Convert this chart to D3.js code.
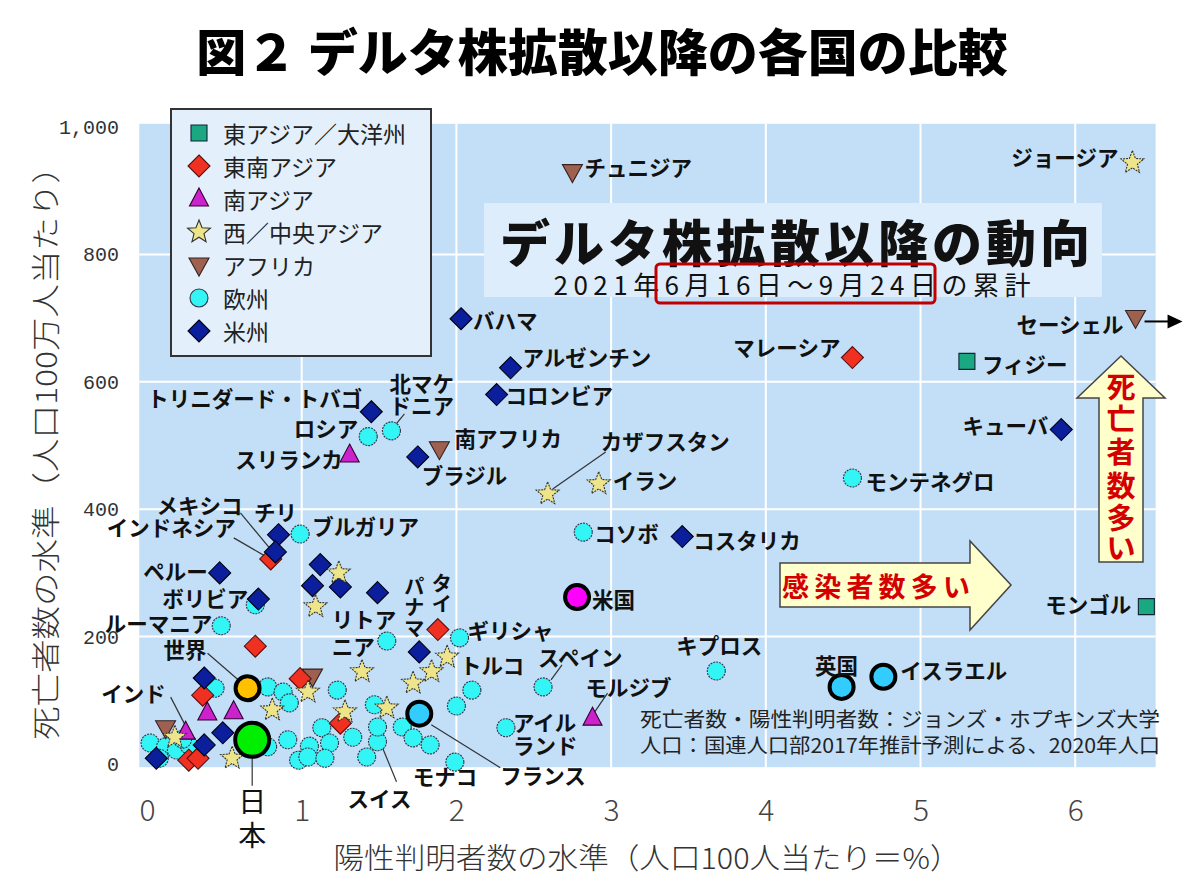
<!DOCTYPE html>
<html><head><meta charset="utf-8">
<script src="https://cdn.jsdelivr.net/npm/d3@7"></script>
<style>
body{margin:0;background:#fff;}
svg{display:block;font-family:"Noto Sans CJK JP","Noto Sans",sans-serif;}
</style>
</head><body>
<svg id="c" width="1200" height="895"></svg>
<script>
// ---------------- DATA ----------------
const xTicks = [0,1,2,3,4,5,6];
const xTickLabels = ["0","1","2","3","4","5","6"];
const yTicks = [0,200,400,600,800,1000];
const yTickLabels = ["0","200","400","600","800","1,000"];
const legendLabels = ["東アジア／大洋州","東南アジア","南アジア","西／中央アジア","アフリカ","欧州","米州"];

const eastAsia = [
  {n:"フィジー",x:5.30,y:632},{n:"モンゴル",x:6.46,y:247}
];
const seAsia = [
  {n:"マレーシア",x:4.56,y:638},{n:"インドネシア",x:0.80,y:322},{n:"タイ",x:1.88,y:211},
  {n:"",x:0.70,y:185},{n:"",x:0.36,y:108},{n:"",x:0.99,y:134},{n:"",x:1.25,y:64},
  {n:"",x:0.27,y:6},{n:"",x:0.33,y:9}
];
const southAsia = [
  {n:"スリランカ",x:1.31,y:485},{n:"モルジブ",x:2.88,y:72},{n:"インド",x:0.25,y:50},
  {n:"",x:0.39,y:80},{n:"",x:0.56,y:82}
];
const westAsia = [
  {n:"ジョージア",x:6.37,y:944},{n:"カザフスタン",x:2.59,y:424},{n:"イラン",x:2.92,y:440},
  {n:"トルコ",x:1.94,y:168},
  {n:"",x:1.84,y:145},{n:"",x:1.72,y:127},{n:"",x:1.24,y:300},{n:"",x:1.09,y:247},
  {n:"",x:1.39,y:145},{n:"",x:1.04,y:113},{n:"",x:0.81,y:85},{n:"",x:0.55,y:9},
  {n:"",x:1.28,y:82},{n:"",x:1.55,y:88},{n:"",x:0.18,y:42}
];
const africa = [
  {n:"チュニジア",x:2.75,y:930},{n:"セーシェル",x:6.39,y:701},{n:"南アフリカ",x:1.89,y:495},
  {n:"",x:1.07,y:138},{n:"",x:0.12,y:57}
];
const europe = [
  {n:"ロシア",x:1.43,y:514},{n:"北マケドニア",x:1.58,y:523},{n:"モンテネグロ",x:4.56,y:449},
  {n:"コソボ",x:2.82,y:364},{n:"ブルガリア",x:0.99,y:361},{n:"ルーマニア",x:0.48,y:217},
  {n:"リトアニア",x:1.55,y:193},{n:"ギリシャ",x:2.02,y:198},{n:"スペイン",x:2.56,y:121},
  {n:"アイルランド",x:2.32,y:57},{n:"キプロス",x:3.68,y:146},{n:"モナコ",x:1.99,y:3},
  {n:"スイス",x:1.49,y:35},
  {n:"",x:0.70,y:250},{n:"",x:0.44,y:119},{n:"",x:0.78,y:121},{n:"",x:0.88,y:113},
  {n:"",x:0.92,y:96},{n:"",x:1.23,y:116},{n:"",x:2.10,y:116},{n:"",x:2.00,y:91},
  {n:"",x:1.47,y:93},{n:"",x:1.13,y:57},{n:"",x:1.33,y:42},{n:"",x:1.49,y:58},
  {n:"",x:1.65,y:58},{n:"",x:1.72,y:41},{n:"",x:1.83,y:30},{n:"",x:0.91,y:38},
  {n:"",x:1.05,y:28},{n:"",x:1.18,y:33},{n:"",x:1.42,y:11},{n:"",x:0.98,y:6},
  {n:"",x:1.04,y:11},{n:"",x:0.02,y:33},{n:"",x:0.12,y:27},{n:"",x:0.19,y:22},
  {n:"",x:0.27,y:30},{n:"",x:0.23,y:39},{n:"",x:0.78,y:27},{n:"",x:1.15,y:9},
  {n:"",x:0.08,y:9}
];
const americas = [
  {n:"バハマ",x:2.03,y:699},{n:"アルゼンチン",x:2.35,y:622},{n:"コロンビア",x:2.26,y:580},
  {n:"キューバ",x:5.91,y:525},{n:"コスタリカ",x:3.46,y:357},{n:"トリニダード・トバゴ",x:1.45,y:553},
  {n:"ブラジル",x:1.75,y:482},{n:"チリ",x:0.85,y:360},{n:"メキシコ",x:0.83,y:333},
  {n:"ペルー",x:0.47,y:300},{n:"ボリビア",x:0.72,y:259},{n:"パナマ",x:1.76,y:176},
  {n:"",x:1.12,y:313},{n:"",x:1.07,y:280},{n:"",x:1.25,y:278},{n:"",x:1.49,y:269},
  {n:"",x:0.37,y:135},{n:"",x:0.49,y:49},{n:"",x:0.37,y:30},{n:"",x:0.06,y:9}
];
const highlights = [
  {n:"世界",x:0.65,y:119},{n:"フランス",x:1.76,y:79},{n:"米国",x:2.78,y:262},
  {n:"英国",x:4.49,y:121},{n:"イスラエル",x:4.76,y:137},{n:"日本",x:0.68,y:38}
];

// ---------------- STYLES / LAYOUT ----------------
const hlStyle = {"世界":["#ffc000",12],"フランス":["#33ccff",12],"米国":["#ff00ff",12],
  "英国":["#33ccff",12],"イスラエル":["#33ccff",12],"日本":["#00ee00",17]};

const labelLayout = {
 "チュニジア":{dx:12,dy:-5,a:"start"},
 "ジョージア":{dx:-14,dy:-6,a:"end"},
 "バハマ":{dx:12,dy:1,a:"start"},
 "アルゼンチン":{dx:12,dy:-11,a:"start"},
 "コロンビア":{dx:9,dy:0,a:"start"},
 "マレーシア":{dx:-12,dy:-11,a:"end"},
 "フィジー":{dx:15,dy:2,a:"start"},
 "セーシェル":{dx:-12,dy:6,a:"end"},
 "キューバ":{dx:-13,dy:-5,a:"end"},
 "モンテネグロ":{dx:13,dy:3,a:"start"},
 "モンゴル":{dx:-15,dy:-3,a:"end"},
 "北マケドニア":{lines:["北マケ","ドニア"],dx:-2,dy:[-48,-26],a:"start",leader:[4,-6,13,-17]},
 "ロシア":{dx:-10,dy:-9,a:"end"},
 "トリニダード・トバゴ":{dx:-9,dy:-14,a:"end"},
 "スリランカ":{dx:-7,dy:3,a:"end"},
 "南アフリカ":{dx:15,dy:-11,a:"start"},
 "ブラジル":{dx:4,dy:18,a:"start"},
 "カザフスタン":{dx:53,dy:-53,a:"start",leader:[5,-5,58,-42]},
 "イラン":{dx:14,dy:-4,a:"start"},
 "コソボ":{dx:11,dy:0,a:"start"},
 "コスタリカ":{dx:11,dy:3,a:"start"},
 "チリ":{dx:-3,dy:-23,a:"middle"},
 "ブルガリア":{dx:12,dy:-9,a:"start"},
 "メキシコ":{dx:-33,dy:-47,a:"end",leader:[-35,-39,-6,-4]},
 "インドネシア":{dx:-35,dy:-32,a:"end",leader:[-37,-21,-6,-3]},
 "ペルー":{dx:-12,dy:-2,a:"end"},
 "ボリビア":{dx:-10,dy:-2,a:"end"},
 "ルーマニア":{dx:-9,dy:-3,a:"end"},
 "世界":{dx:-41,dy:-40,a:"end",leader:[-40,-35,-10,-9]},
 "インド":{dx:-20,dy:-40,a:"end",leader:[-15,-35,0,-6]},
 "日本":{lines:["日","本"],dx:0,dy:[60,94],a:"middle",leader:[0,18,0,46],plain:true},
 "米国":{dx:15,dy:1,a:"start"},
 "英国":{dx:-5,dy:-22,a:"middle"},
 "イスラエル":{dx:17,dy:-7,a:"start"},
 "フランス":{dx:81,dy:61,a:"start",leader:[12,11,81,54]},
 "キプロス":{dx:3,dy:-26,a:"middle"},
 "スペイン":{dx:-5,dy:-30,a:"start",leader:[8,-7,19,-22]},
 "モルジブ":{dx:-7,dy:-32,a:"start",leader:[2,-6,15,-25]},
 "アイルランド":{lines:["アイル","ランド"],dx:7,dy:[-6,17],a:"start"},
 "ギリシャ":{dx:8,dy:-8,a:"start"},
 "トルコ":{dx:13,dy:8,a:"start"},
 "パナマ":{lines:["パ","ナ","マ"],dx:-5,dy:[-66,-45,-24],a:"middle",small:true},
 "タイ":{lines:["タ","イ"],dx:4,dy:[-47,-26],a:"middle",small:true},
 "リトアニア":{lines:["リトア","ニア"],dx:-55,dy:[-23,4],a:"start"},
 "モナコ":{dx:-42,dy:13,a:"start"},
 "スイス":{dx:2,dy:56,a:"middle",leader:[5,6,19,40]}
};

// ---------------- DRAW ----------------
const svg = d3.select("#c");
const x = d3.scaleLinear().domain([0,6]).range([147,1075.2]);
const y = d3.scaleLinear().domain([0,1000]).range([764,127]);

// title
svg.append("text").attr("x",602).attr("y",49).attr("text-anchor","middle")
  .attr("dominant-baseline","central").attr("font-size",50).attr("font-weight",900)
  .attr("fill","#000").text("図２ デルタ株拡散以降の各国の比較");

// plot background
svg.append("rect").attr("x",x(-0.05)).attr("y",y(1005))
  .attr("width",x(6.52)-x(-0.05)).attr("height",y(-5)-y(1005)).attr("fill","#c3dff8");

// grid
svg.append("g").selectAll("line").data(xTicks.filter(d=>d>0)).join("line")
  .attr("x1",d=>x(d)).attr("x2",d=>x(d)).attr("y1",y(1005)).attr("y2",y(-5))
  .attr("stroke","#fff").attr("stroke-width",2);
svg.append("g").selectAll("line").data(yTicks.filter(d=>d>0&&d<1000)).join("line")
  .attr("x1",x(-0.05)).attr("x2",x(6.52)).attr("y1",d=>y(d)).attr("y2",d=>y(d))
  .attr("stroke","#fff").attr("stroke-width",2);

// axes tick labels
const xAxis = d3.axisBottom(x).tickValues(xTicks).tickFormat((d,i)=>xTickLabels[i]).tickSize(0).tickPadding(0);
const gx = svg.append("g").attr("transform",`translate(0,808)`).call(xAxis);
gx.select(".domain").remove();
gx.selectAll("text").attr("font-size",30).attr("fill","#444").attr("font-weight",300)
  .attr("font-family","'Noto Sans CJK JP',sans-serif").attr("dy",null).attr("y",0)
  .attr("dominant-baseline","central");
const yAxis = d3.axisLeft(y).tickValues(yTicks).tickFormat((d,i)=>yTickLabels[i]).tickSize(0).tickPadding(0);
const gy = svg.append("g").attr("transform",`translate(119,0)`).call(yAxis);
gy.select(".domain").remove();
gy.selectAll("text").attr("font-size",20).attr("fill","#333")
  .attr("font-family","'Liberation Mono',monospace");

// axis titles
svg.append("text").attr("transform","translate(44,445) rotate(-90)").attr("text-anchor","middle")
  .attr("dominant-baseline","central").attr("font-size",29).attr("fill","#333").attr("font-weight",300)
  .attr("textLength",590).attr("lengthAdjust","spacingAndGlyphs")
  .text("死亡者数の水準（人口100万人当たり）");
svg.append("text").attr("x",647).attr("y",856).attr("text-anchor","middle")
  .attr("dominant-baseline","central").attr("font-size",29).attr("fill","#333").attr("font-weight",300)
  .attr("textLength",627).attr("lengthAdjust","spacingAndGlyphs")
  .text("陽性判明者数の水準（人口100人当たり＝%）");

// inner title box
svg.append("rect").attr("x",484).attr("y",203).attr("width",618).attr("height",94).attr("fill","#deedfb");
svg.append("text").attr("x",795).attr("y",240).attr("text-anchor","middle").attr("dominant-baseline","central")
  .attr("font-size",50).attr("font-weight",900).attr("fill","#111")
  .attr("textLength",590).attr("lengthAdjust","spacing").text("デルタ株拡散以降の動向");
svg.append("text").attr("x",792).attr("y",283).attr("text-anchor","middle").attr("dominant-baseline","central")
  .attr("font-size",26).attr("fill","#111")
  .attr("textLength",477).attr("lengthAdjust","spacing").text("2021年6月16日～9月24日の累計");
svg.append("rect").attr("x",656).attr("y",264).attr("width",279).attr("height",39).attr("rx",4)
  .attr("fill","none").attr("stroke","#c00000").attr("stroke-width",3);

// arrows
svg.append("path").attr("d","M780,563 L970,563 L970,541 L1011,585 L970,630 L970,607 L780,607 Z")
  .attr("fill","#ffffcc").attr("stroke","#444").attr("stroke-width",1.5);
svg.append("text").attr("x",876).attr("y",585).attr("text-anchor","middle").attr("dominant-baseline","central")
  .attr("font-size",27).attr("font-weight",700).attr("fill","#d40000")
  .attr("textLength",188).attr("lengthAdjust","spacing").text("感染者数多い");
svg.append("path").attr("d","M1121,356 L1165,398 L1143,398 L1143,562 L1099,562 L1099,398 L1077,398 Z")
  .attr("fill","#ffffcc").attr("stroke","#444").attr("stroke-width",1.5);
["死","亡","者","数","多","い"].forEach((c,i)=>{
  svg.append("text").attr("x",1121).attr("y",[385,417,450,484,516,546][i]).attr("text-anchor","middle")
   .attr("dominant-baseline","central").attr("font-size",29).attr("font-weight",700).attr("fill","#d40000").text(c);
});

// marker shapes
function starPath(R,r){let p="";for(let i=0;i<10;i++){const a=-Math.PI/2+i*Math.PI/5;const rr=i%2?r:R;p+=(i?"L":"M")+(rr*Math.cos(a)).toFixed(2)+","+(rr*Math.sin(a)).toFixed(2);}return p+"Z";}
const shapes = {
  square:{d:"M-8,-8L8,-8L8,8L-8,8Z",fill:"#1aa882",stroke:"#123"},
  diamondR:{d:"M0,-11L11,0L0,11L-11,0Z",fill:"#f03020",stroke:"#511"},
  triUp:{d:"M0,-11L9.5,7L-9.5,7Z",fill:"#cc22cc",stroke:"#303"},
  star:{d:starPath(12,5.2),fill:"#eee48a",stroke:"#333"},
  triDown:{d:"M-10,-7L10,-7L0,11Z",fill:"#9e6150",stroke:"#322"},
  circle:{d:d3.symbol(d3.symbolCircle,Math.PI*9*9)(),fill:"#33f5f5",stroke:"#334"},
  diamondB:{d:"M0,-11L11,0L0,11L-11,0Z",fill:"#0b1f9c",stroke:"#001"}
};
const legendShapes = ["square","diamondR","triUp","star","triDown","circle","diamondB"];

const groups = [
  [europe,"circle"],[africa,"triDown"],[seAsia,"diamondR"],[southAsia,"triUp"],
  [americas,"diamondB"],[westAsia,"star"],[eastAsia,"square"]
];

const leaderG = svg.append("g");
const markG = svg.append("g");
const labelG = svg.append("g");

function drawLeader(px,py,L){
  if(!L.leader) return;
  const [a,b,c,d]=L.leader;
  leaderG.append("line").attr("x1",px+a).attr("y1",py+b).attr("x2",px+c).attr("y2",py+d)
    .attr("stroke","#333").attr("stroke-width",1.2);
}
function drawLabel(px,py,name){
  const L = labelLayout[name]; if(!L) return;
  drawLeader(px,py,L);
  const lines = L.lines || [name];
  const dys = Array.isArray(L.dy)?L.dy:[L.dy];
  lines.forEach((t,i)=>{
    labelG.append("text").attr("x",px+L.dx).attr("y",py+dys[i]).attr("text-anchor",L.a)
      .attr("dominant-baseline","central").attr("font-size",L.plain?28:(L.small?20:21.5))
      .attr("font-weight",L.plain?400:700).attr("fill","#111").text(t);
  });
}

groups.forEach(([data,shape])=>{
  const s = shapes[shape];
  markG.append("g").selectAll("path").data(data).join("path")
    .attr("d",s.d).attr("transform",d=>`translate(${x(d.x)},${y(d.y)})`)
    .attr("fill",s.fill).attr("stroke",s.stroke).attr("stroke-width",1.1)
    .attr("stroke-dasharray",shape==="circle"||shape==="star"?"2,1":null);
  data.forEach(d=>{ if(d.n) drawLabel(x(d.x),y(d.y),d.n); });
});

// highlights
markG.append("g").selectAll("circle").data(highlights).join("circle")
  .attr("cx",d=>x(d.x)).attr("cy",d=>y(d.y)).attr("r",d=>hlStyle[d.n][1])
  .attr("fill",d=>hlStyle[d.n][0]).attr("stroke","#000").attr("stroke-width",4);
highlights.forEach(d=>drawLabel(x(d.x),y(d.y),d.n));

// Seychelles off-chart arrow
{
  const s = africa.find(d=>d.n==="セーシェル");
  const px=x(s.x), py=y(s.y)+4;
  labelG.append("line").attr("x1",px+9).attr("y1",py).attr("x2",px+34).attr("y2",py).attr("stroke","#000").attr("stroke-width",2);
  labelG.append("path").attr("d",`M${px+32},${py-7}L${px+47},${py}L${px+32},${py+7}Z`).attr("fill","#000");
}

// legend
const lg = svg.append("g");
lg.append("rect").attr("x",171).attr("y",109).attr("width",260).attr("height",247)
  .attr("fill","#e3f0fc").attr("stroke","#333").attr("stroke-width",2);
legendLabels.forEach((t,i)=>{
  const s = shapes[legendShapes[i]];
  const cy = 133 + i*33;
  lg.append("path").attr("d",s.d).attr("transform",`translate(199,${cy})`)
    .attr("fill",s.fill).attr("stroke",s.stroke).attr("stroke-width",1.1);
  lg.append("text").attr("x",223).attr("y",cy).attr("dominant-baseline","central")
    .attr("font-size",23).attr("fill","#222").text(t);
});

// source note
svg.append("text").attr("x",1160).attr("y",718).attr("text-anchor","end").attr("dominant-baseline","central")
  .attr("font-size",20).attr("fill","#222").attr("textLength",520).attr("lengthAdjust","spacingAndGlyphs")
  .text("死亡者数・陽性判明者数：ジョンズ・ホプキンズ大学");
svg.append("text").attr("x",1160).attr("y",744).attr("text-anchor","end").attr("dominant-baseline","central")
  .attr("font-size",20).attr("fill","#222").attr("textLength",520).attr("lengthAdjust","spacingAndGlyphs")
  .text("人口：国連人口部2017年推計予測による、2020年人口");
</script>
</body></html>
